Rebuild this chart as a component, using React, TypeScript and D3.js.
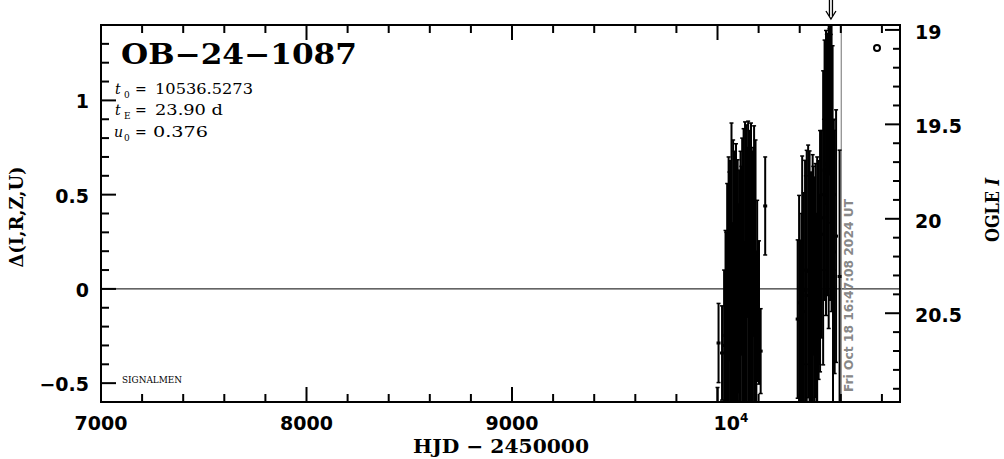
import React from 'react';
import * as d3 from 'd3';

// ---- data ----
const hjd2023 = [10000, 10005, 10022, 10032, 10039, 10043, 10047, 10054, 10058, 10061, 10068, 10072, 10076, 10083, 10087, 10090, 10098, 10101, 10105, 10112, 10116, 10120, 10127, 10130, 10134, 10141, 10145, 10149, 10156, 10160, 10163, 10171, 10174, 10178, 10185, 10189, 10193, 10197, 10202, 10210, 10232];
const delta2023 = [-0.637, -0.287, -0.34, -0.3, -0.247, -0.15, -0.096, 0.0, 0.12, -0.06, 0.09, -0.2, -0.01, -0.01, 0.2, -0.03, 0.045, -0.05, -0.11, -0.01, 0.15, 0.0, 0.05, -0.25, 0.146, 0.03, 0.3, 0.07, 0.11, -0.1, 0.04, -0.01, 0.25, 0.085, -0.01, -0.2, -0.01, -0.07, -0.125, -0.33, 0.44];
const err2023 = [0.114, 0.21, 0.25, 0.4, 0.557, 0.45, 0.655, 0.7, 0.5, 0.74, 0.79, 0.55, 0.8, 0.74, 0.45, 0.8, 0.64, 0.5, 0.74, 0.74, 0.5, 0.8, 0.8, 0.5, 0.74, 0.84, 0.45, 0.82, 0.73, 0.55, 0.84, 0.74, 0.5, 0.78, 0.8, 0.4, 0.48, 0.2, 0.38, 0.225, 0.26];

const hjd2024 = [10390, 10397, 10404, 10408, 10412, 10419, 10426, 10430, 10434, 10441, 10448, 10452, 10455, 10463, 10466, 10470, 10477, 10481, 10485, 10492, 10495, 10499, 10507, 10514, 10518, 10521, 10528, 10532, 10536, 10541, 10545, 10548, 10551, 10555, 10560, 10562, 10566, 10570, 10577, 10594];
const delta2024 = [-0.16, -0.074, -0.167, -0.1, 0.005, -0.12, -0.008, 0.1, -0.035, 0.093, -0.008, -0.15, -0.04, -0.048, 0.15, -0.027, 0.045, -0.1, 0.0, 0.1, 0.05, 0.2, 0.29, 0.377, 0.5, 0.63, 0.615, 0.9, 0.66, 0.61, 1.0, 0.68, 0.85, 0.64, 0.64, 0.146, 0.5, 0.196, 0.28, 0.066];
const err2024 = [0.42, 0.57, 0.425, 0.5, 0.7, 0.63, 0.69, 0.5, 0.77, 0.67, 0.74, 0.55, 0.66, 0.76, 0.5, 0.62, 0.62, 0.5, 0.7, 0.58, 0.45, 0.64, 0.55, 0.78, 0.4, 0.69, 0.756, 0.45, 0.695, 0.82, 0.38, 0.74, 0.5, 0.76, 0.65, 0.75, 0.4, 0.645, 0.67, 0.67];

const xMajor = [7000, 8000, 9000, 10000];
const xTickLabels = ['7000', '8000', '9000', '10'];
const yMajor = [-0.5, 0, 0.5, 1];
const yTickLabels = ['\u22120.5', '0', '0.5', '1'];
const magMajor = [19, 19.5, 20, 20.5];
const magTickLabels = ['19', '19.5', '20', '20.5'];

const eventName = 'OB\u221224\u22121087';
const t0Text = '10536.5273';
const tEText = '23.90 d';
const u0Text = '0.376';
const arrowHjd = 10552;
const nowHjd = 10602.2;
const timestamp = 'Fri Oct 18 16:47:08 2024 UT';

const W = 1004;
const H = 459;
const L = 101, R = 900, T = 25, B = 402;

const x = d3.scaleLinear().domain([7000, 10888]).range([L, R]);
const y = d3.scaleLinear().domain([-0.6, 1.4]).range([B, T]);
const mag = d3.scaleLinear().domain([18.974, 20.97]).range([T, B]);

const xMinor = d3.range(7200, 10888, 200).filter((v) => v % 1000 !== 0);
const yMinor = d3.range(-5, 14).map((i) => i / 10).filter((v) => Math.abs((v * 10) % 5) > 1e-6);
const magMinor = d3.range(191, 210).map((i) => i / 10).filter((v) => Math.abs(Math.round(v * 10) % 5) !== 0);

const sansBold = '"DejaVu Sans", sans-serif';
const serif = '"DejaVu Serif", serif';

function points() {
  const pts: { t: number; d: number; e: number }[] = [];
  hjd2023.forEach((t, i) => pts.push({ t, d: delta2023[i], e: err2023[i] }));
  hjd2024.forEach((t, i) => pts.push({ t, d: delta2024[i], e: err2024[i] }));
  return pts;
}

export default function App() {
  const pts = points();
  const ax = x(arrowHjd);
  const nx = x(nowHjd);
  return (
    <svg width={W} height={H} style={{ position: 'absolute', left: 0, top: 0, background: '#fff' }}>
      <defs>
        <clipPath id="plot">
          <rect x={L} y={T} width={R - L} height={B - T} />
        </clipPath>
      </defs>
      <rect x={0} y={0} width={W} height={H} fill="#fff" />

      {/* zero line */}
      <line x1={L} x2={R} y1={y(0)} y2={y(0)} stroke="#000" strokeWidth={1} />

      {/* now line */}
      <line x1={nx} x2={nx} y1={T} y2={B} stroke="#888" strokeWidth={1.2} />

      {/* data */}
      <g clipPath="url(#plot)" stroke="#000">
        {pts.map((p, i) => {
          const px = x(p.t);
          const y1 = y(p.d + p.e);
          const y2 = y(p.d - p.e);
          return (
            <g key={i}>
              <line x1={px} x2={px} y1={y1} y2={y2} strokeWidth={2} />
              <line x1={px - 2} x2={px + 2} y1={y1} y2={y1} strokeWidth={1.5} />
              <line x1={px - 2} x2={px + 2} y1={y2} y2={y2} strokeWidth={1.5} />
              <rect x={px - 2} y={y(p.d) - 1.5} width={4} height={3} fill="#000" stroke="none" />
            </g>
          );
        })}
      </g>

      {/* timestamp */}
      <text
        transform={`translate(${nx + 12},392) rotate(-90)`}
        fontFamily={sansBold}
        fontWeight="bold"
        fontSize={12.5}
        fill="#888"
        textLength={193}
        lengthAdjust="spacingAndGlyphs"
      >
        {timestamp}
      </text>

      {/* frame */}
      <rect x={L} y={T} width={R - L} height={B - T} fill="none" stroke="#000" strokeWidth={2} />

      {/* x ticks bottom & top */}
      {xMajor.map((v) => (
        <g key={'xm' + v}>
          <line x1={x(v)} x2={x(v)} y1={B} y2={B - 15} stroke="#000" strokeWidth={2} />
          <line x1={x(v)} x2={x(v)} y1={T} y2={T + 15} stroke="#000" strokeWidth={2} />
        </g>
      ))}
      {xMinor.map((v) => (
        <g key={'xn' + v}>
          <line x1={x(v)} x2={x(v)} y1={B} y2={B - 8} stroke="#000" strokeWidth={2} />
          <line x1={x(v)} x2={x(v)} y1={T} y2={T + 8} stroke="#000" strokeWidth={2} />
        </g>
      ))}
      {xMajor.map((v, i) =>
        v === 10000 ? (
          <text key={'xl' + v} x={x(v) - 4} y={430} fontFamily={sansBold} fontWeight="bold" fontSize={19} textAnchor="start">
            {xTickLabels[i]}
            <tspan fontSize={12} dy={-8}>4</tspan>
          </text>
        ) : (
          <text key={'xl' + v} x={x(v)} y={430} fontFamily={sansBold} fontWeight="bold" fontSize={19} textAnchor="middle">
            {xTickLabels[i]}
          </text>
        )
      )}

      {/* left y ticks */}
      {yMajor.map((v, i) => (
        <g key={'ym' + v}>
          <line x1={L} x2={L + 15} y1={y(v)} y2={y(v)} stroke="#000" strokeWidth={2} />
          <text x={89} y={y(v) + 8} fontFamily={sansBold} fontWeight="bold" fontSize={19} textAnchor="end">
            {yTickLabels[i]}
          </text>
        </g>
      ))}
      {yMinor.map((v) => (
        <line key={'yn' + v} x1={L} x2={L + 8} y1={y(v)} y2={y(v)} stroke="#000" strokeWidth={2} />
      ))}

      {/* right mag ticks */}
      {magMajor.map((v, i) => (
        <g key={'mm' + v}>
          <line x1={R} x2={R - 15} y1={mag(v)} y2={mag(v)} stroke="#000" strokeWidth={2} />
          <text x={915} y={mag(v) + 9} fontFamily={sansBold} fontWeight="bold" fontSize={19} textAnchor="start">
            {magTickLabels[i]}
          </text>
        </g>
      ))}
      {magMinor.map((v) => (
        <line key={'mn' + v} x1={R} x2={R - 7} y1={mag(v)} y2={mag(v)} stroke="#000" strokeWidth={2} />
      ))}

      {/* axis titles */}
      <text x={501} y={453} fontFamily={serif} fontWeight="bold" fontSize={19} textAnchor="middle" textLength={176} lengthAdjust="spacingAndGlyphs">
        {'HJD \u2212 2450000'}
      </text>
      <text transform="translate(23,217) rotate(-90)" fontFamily={serif} fontWeight="bold" fontSize={18} textAnchor="middle" textLength={101} lengthAdjust="spacingAndGlyphs">
        {'\u0394(I,R,Z,U)'}
      </text>
      <text transform="translate(999,210) rotate(-90)" fontFamily={serif} fontWeight="bold" fontSize={18} textAnchor="middle" textLength={64} lengthAdjust="spacingAndGlyphs">
        OGLE <tspan fontStyle="italic">I</tspan>
      </text>

      {/* title and parameters */}
      <text x={121} y={64} fontFamily={serif} fontWeight="bold" fontSize={27} textLength={236} lengthAdjust="spacingAndGlyphs">
        {eventName}
      </text>

      <g fontFamily={serif} fontSize={14} fill="#000">
        <text x={115} y={94} fontStyle="italic">t</text>
        <text x={124} y={98} fontSize={9}>0</text>
        <text x={135} y={94}>=</text>
        <text x={155} y={94} textLength={98} lengthAdjust="spacingAndGlyphs">{t0Text}</text>

        <text x={115} y={115} fontStyle="italic">t</text>
        <text x={124} y={119} fontSize={9}>E</text>
        <text x={135} y={115}>=</text>
        <text x={155} y={115} textLength={68} lengthAdjust="spacingAndGlyphs">{tEText}</text>

        <text x={114} y={137} fontStyle="italic">u</text>
        <text x={124} y={141} fontSize={9}>0</text>
        <text x={135} y={137}>=</text>
        <text x={153} y={137} textLength={55} lengthAdjust="spacingAndGlyphs">{u0Text}</text>
      </g>

      <text x={122} y={383} fontFamily={serif} fontSize={9} textLength={60} lengthAdjust="spacingAndGlyphs">
        SIGNALMEN
      </text>

      {/* legend symbol */}
      <circle cx={877} cy={48} r={3} fill="none" stroke="#000" strokeWidth={2} />

      {/* arrow at peak */}
      <g stroke="#000" strokeWidth={1.3} fill="none">
        <line x1={ax - 1.5} x2={ax - 1.5} y1={0} y2={16} />
        <line x1={ax + 1.5} x2={ax + 1.5} y1={0} y2={16} />
        <polyline points={`${ax - 5},11 ${ax},19 ${ax + 5},11`} />
      </g>
    </svg>
  );
}
